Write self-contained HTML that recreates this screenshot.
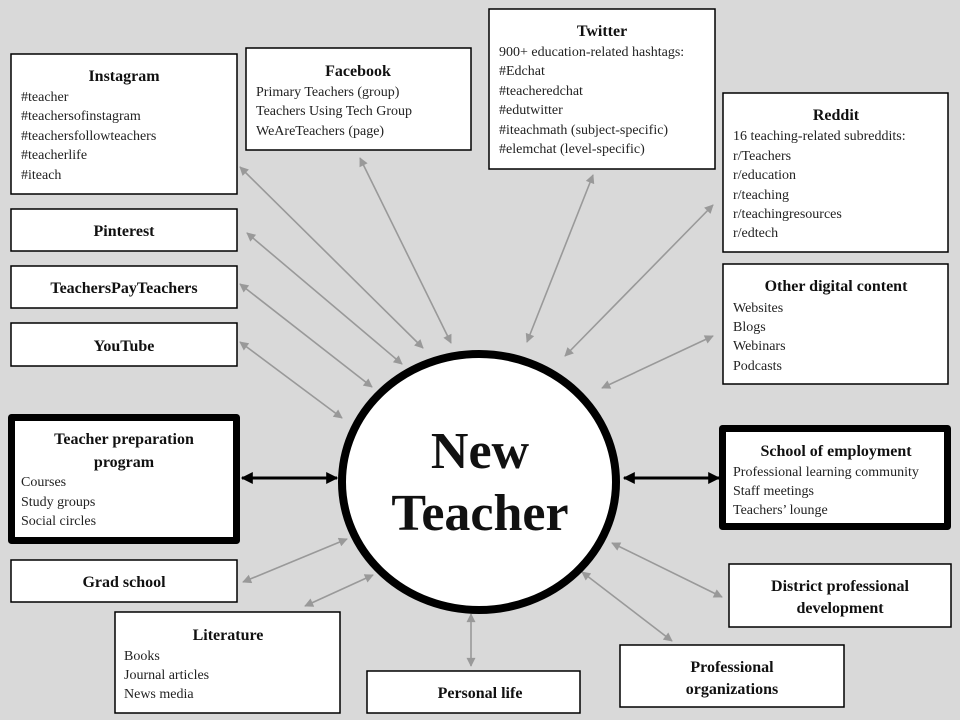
<!DOCTYPE html>
<html><head><meta charset="utf-8"><style>
html,body{margin:0;padding:0;background:#d9d9d9}
svg{display:block}
text{font-family:"Liberation Serif",serif;fill:#111}
.t{font-weight:bold;font-size:16px;text-anchor:middle}
.i{font-size:14px;fill:#222}
.b{fill:#fff;stroke:#000;stroke-width:1.5}
.k{fill:#fff;stroke:#000;stroke-width:7;stroke-linejoin:round}
.a{stroke:#999;stroke-width:1.6;marker-start:url(#g);marker-end:url(#g)}
</style></head><body>
<svg width="960" height="720" viewBox="0 0 960 720" xmlns="http://www.w3.org/2000/svg">
<defs>
<marker id="g" viewBox="0 0 10 10" refX="9" refY="5" markerWidth="11" markerHeight="9" markerUnits="userSpaceOnUse" orient="auto-start-reverse"><path d="M0,0L10,5L0,10z" fill="#999"/></marker>
<marker id="k" viewBox="0 0 10 10" refX="9" refY="5" markerWidth="14" markerHeight="12" markerUnits="userSpaceOnUse" orient="auto-start-reverse"><path d="M0,0L10,5L0,10z" fill="#000"/></marker>
</defs>
<rect width="960" height="720" fill="#d9d9d9"/>
<line class="a" x1="240" y1="167" x2="423" y2="348"/>
<line class="a" x1="360" y1="158" x2="451" y2="343"/>
<line class="a" x1="593" y1="175" x2="527" y2="342"/>
<line class="a" x1="713" y1="205" x2="565" y2="356"/>
<line class="a" x1="713" y1="336" x2="602" y2="388"/>
<line class="a" x1="247" y1="233" x2="402" y2="364"/>
<line class="a" x1="240" y1="284" x2="372" y2="387"/>
<line class="a" x1="240" y1="342" x2="342" y2="418"/>
<line class="a" x1="243" y1="582" x2="347" y2="539"/>
<line class="a" x1="305" y1="606" x2="373" y2="575"/>
<line class="a" x1="471" y1="614" x2="471" y2="666"/>
<line class="a" x1="612" y1="543" x2="722" y2="597"/>
<line class="a" x1="582" y1="572" x2="672" y2="641"/>
<line x1="242" y1="478" x2="337" y2="478" stroke="#000" stroke-width="3" marker-start="url(#k)" marker-end="url(#k)"/>
<line x1="624" y1="478" x2="719" y2="478" stroke="#000" stroke-width="3" marker-start="url(#k)" marker-end="url(#k)"/>
<ellipse cx="479" cy="482" rx="137" ry="128" fill="#fff" stroke="#000" stroke-width="8"/>
<text x="480" y="468" style="font-size:52px;font-weight:bold;text-anchor:middle">New</text>
<text x="480" y="530" style="font-size:52px;font-weight:bold;text-anchor:middle">Teacher</text>
<rect class="b" x="11" y="54" width="226" height="140"/>
<text class="t" x="124" y="81">Instagram</text>
<text class="i" x="21" y="101">#teacher</text>
<text class="i" x="21" y="120">#teachersofinstagram</text>
<text class="i" x="21" y="140">#teachersfollowteachers</text>
<text class="i" x="21" y="159">#teacherlife</text>
<text class="i" x="21" y="179">#iteach</text>
<rect class="b" x="246" y="48" width="225" height="102"/>
<text class="t" x="358" y="76">Facebook</text>
<text class="i" x="256" y="96">Primary Teachers (group)</text>
<text class="i" x="256" y="115">Teachers Using Tech Group</text>
<text class="i" x="256" y="135">WeAreTeachers (page)</text>
<rect class="b" x="489" y="9" width="226" height="160"/>
<text class="t" x="602" y="36">Twitter</text>
<text class="i" x="499" y="56">900+ education-related hashtags:</text>
<text class="i" x="499" y="75">#Edchat</text>
<text class="i" x="499" y="95">#teacheredchat</text>
<text class="i" x="499" y="114">#edutwitter</text>
<text class="i" x="499" y="134">#iteachmath (subject-specific)</text>
<text class="i" x="499" y="153">#elemchat (level-specific)</text>
<rect class="b" x="723" y="93" width="225" height="159"/>
<text class="t" x="836" y="120">Reddit</text>
<text class="i" x="733" y="140">16 teaching-related subreddits:</text>
<text class="i" x="733" y="160">r/Teachers</text>
<text class="i" x="733" y="179">r/education</text>
<text class="i" x="733" y="199">r/teaching</text>
<text class="i" x="733" y="218">r/teachingresources</text>
<text class="i" x="733" y="237">r/edtech</text>
<rect class="b" x="723" y="264" width="225" height="120"/>
<text class="t" x="836" y="291">Other digital content</text>
<text class="i" x="733" y="312">Websites</text>
<text class="i" x="733" y="331">Blogs</text>
<text class="i" x="733" y="350">Webinars</text>
<text class="i" x="733" y="370">Podcasts</text>
<rect class="b" x="11" y="209" width="226" height="42"/>
<text class="t" x="124" y="236">Pinterest</text>
<rect class="b" x="11" y="266" width="226" height="42"/>
<text class="t" x="124" y="293">TeachersPayTeachers</text>
<rect class="b" x="11" y="323" width="226" height="43"/>
<text class="t" x="124" y="351">YouTube</text>
<rect class="k" x="11.5" y="417.5" width="225" height="123"/>
<text class="t" x="124" y="444">Teacher preparation</text>
<text class="t" x="124" y="467">program</text>
<text class="i" x="21" y="486">Courses</text>
<text class="i" x="21" y="506">Study groups</text>
<text class="i" x="21" y="525">Social circles</text>
<rect class="k" x="722.5" y="428.5" width="225" height="98"/>
<text class="t" x="836" y="456">School of employment</text>
<text class="i" x="733" y="476">Professional learning community</text>
<text class="i" x="733" y="495">Staff meetings</text>
<text class="i" x="733" y="514">Teachers’ lounge</text>
<rect class="b" x="11" y="560" width="226" height="42"/>
<text class="t" x="124" y="587">Grad school</text>
<rect class="b" x="115" y="612" width="225" height="101"/>
<text class="t" x="228" y="640">Literature</text>
<text class="i" x="124" y="660">Books</text>
<text class="i" x="124" y="679">Journal articles</text>
<text class="i" x="124" y="698">News media</text>
<rect class="b" x="367" y="671" width="213" height="42"/>
<text class="t" x="480" y="698">Personal life</text>
<rect class="b" x="729" y="564" width="222" height="63"/>
<text class="t" x="840" y="591">District professional</text>
<text class="t" x="840" y="613">development</text>
<rect class="b" x="620" y="645" width="224" height="62"/>
<text class="t" x="732" y="672">Professional</text>
<text class="t" x="732" y="694">organizations</text>
</svg>
</body></html>
